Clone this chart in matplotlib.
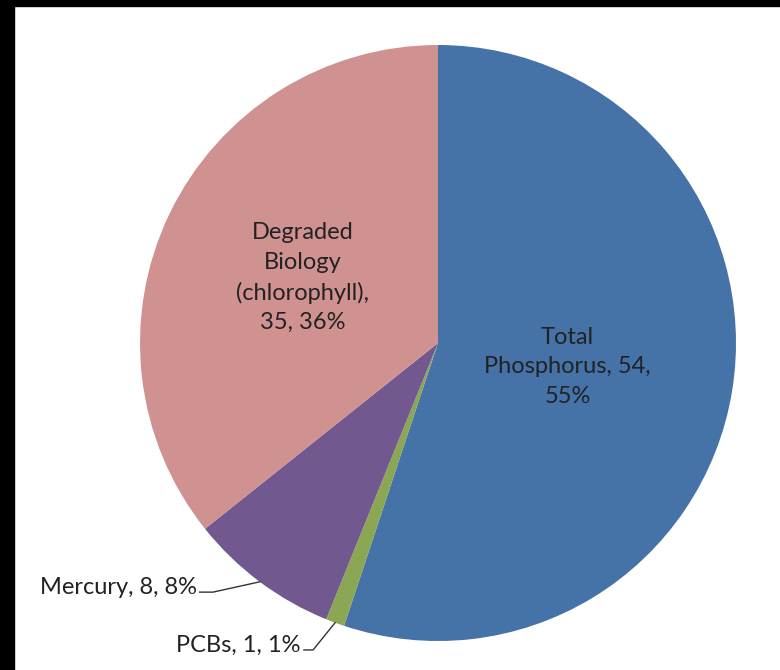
import matplotlib.pyplot as plt
import numpy as np

# pie data (clockwise from 12 o'clock)
categories = ["Total\nPhosphorus", "PCBs", "Mercury", "Degraded\nBiology\n(chlorophyll)"]
values = [54, 1, 8, 35]
percents = ["55%", "1%", "8%", "36%"]
colors = ["#4572A7", "#8BA753", "#71588F", "#D09291"]

plt.rcParams['font.family'] = ['Lato', 'DejaVu Sans']

fig = plt.figure(figsize=(7.8, 6.7), dpi=100)
fig.patch.set_facecolor("white")

# black frame strips at top and left, as in the screenshot
fig.add_artist(plt.Rectangle((0, 1 - 6 / 670), 1, 6 / 670, transform=fig.transFigure,
                             color="black", zorder=10))
fig.add_artist(plt.Rectangle((0, 0), 14 / 780, 1, transform=fig.transFigure,
                             color="black", zorder=10))

cx, cy, r = 438, 343, 298
ax = fig.add_axes([(cx - r) / 780, (670 - cy - r) / 670, 2 * r / 780, 2 * r / 670])
wedges, _ = ax.pie(values, colors=colors, startangle=90, counterclock=False,
                   radius=1, wedgeprops=dict(linewidth=0))
ax.set_xlim(-1, 1)
ax.set_ylim(-1, 1)
ax.set_aspect("equal")
ax.axis("off")

def mid_angle(w):
    return np.deg2rad((w.theta1 + w.theta2) / 2)

fs = 17
txt_color = "#222222"
# inside labels
a = mid_angle(wedges[0])
ax.text(0.44 * np.cos(a), 0.44 * np.sin(a) - 0.01,
        "Total\nPhosphorus, %d,\n%s" % (values[0], percents[0]),
        ha="center", va="center", fontsize=fs, linespacing=1.5, color=txt_color)
a = mid_angle(wedges[3])
ax.text(0.505 * np.cos(a), 0.505 * np.sin(a),
        "Degraded\nBiology\n(chlorophyll),\n%d, %s" % (values[3], percents[3]),
        ha="center", va="center", fontsize=fs, linespacing=1.5, color=txt_color)

# outside labels with leader lines
outside = [(2, (-0.755, -0.836), (-0.80, -0.836), (-0.809, -0.822)),
           (1, (-0.419, -1.03), (-0.45, -1.03), (-0.463, -1.016))]
for i, elbow, lend, tpos in outside:
    a = mid_angle(wedges[i])
    ex, ey = np.cos(a), np.sin(a)
    ax.plot([ex, elbow[0], lend[0]], [ey, elbow[1], lend[1]], color="#333333",
            linewidth=1, clip_on=False)
    name = categories[i]
    ax.text(tpos[0], tpos[1], "%s, %d, %s" % (name, values[i], percents[i]),
            ha="right", va="center", fontsize=fs, color=txt_color)

fig.savefig("out.png", dpi=100, facecolor="white")
